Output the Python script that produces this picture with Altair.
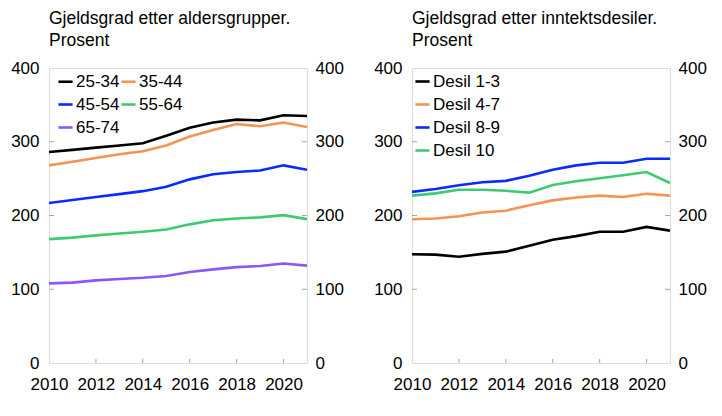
import altair as alt
import pandas as pd

years = list(range(2010, 2022))

age_groups = ["25-34", "35-44", "45-54", "55-64", "65-74"]
age_25_34 = [286, 289, 292, 295, 298, 308, 319, 326, 330, 329, 336, 335]
age_35_44 = [268, 273, 278, 283, 287, 295, 307, 316, 324, 321, 326, 320]
age_45_54 = [217, 221, 225, 229, 233, 239, 249, 256, 259, 261, 268, 262]
age_55_64 = [168, 170, 173, 175.5, 178, 181, 188, 193.5, 196, 197.5, 200.5, 195]
age_65_74 = [108, 109, 112, 114, 115.5, 118, 123.5, 127, 130, 131.5, 135, 132]

inc_groups = ["Desil 1-3", "Desil 4-7", "Desil 8-9", "Desil 10"]
inc_1_3 = [147.5, 147, 144, 148, 151, 159, 167, 172, 178, 178, 184.5, 179.5]
inc_4_7 = [195, 196, 199, 204, 206.5, 214, 220.5, 224.5, 227, 225, 229.5, 227]
inc_8_9 = [232, 236, 241, 245, 247, 254, 262, 268, 271.5, 271.5, 277, 277]
inc_10 = [227, 230, 235, 235, 233.5, 231, 241.5, 246.5, 250.5, 254.5, 259, 244]

age_colors = ["#000000", "#F49452", "#0A2BFF", "#3DCB72", "#8D55FA"]
inc_colors = ["#000000", "#F49452", "#0A2BFF", "#3DCB72"]

titles = [["Gjeldsgrad etter aldersgrupper.", "Prosent"],
          ["Gjeldsgrad etter inntektsdesiler.", "Prosent"]]

y_ticks = [0, 100, 200, 300, 400]
x_ticks = [2010, 2012, 2014, 2016, 2018, 2020]
inner_x_ticks = [2012, 2014, 2016, 2018, 2020]
inner_y_ticks = [100, 200, 300]

FONT = "Liberation Sans"
GRAY = "#808080"


def long_df(groups, series):
    rows = []
    for g, vals in zip(groups, series):
        for yr, v in zip(years, vals):
            rows.append({"year": yr, "value": v, "series": g})
    return pd.DataFrame(rows)


def panel(groups, series, colors, title, cols, lx, ly):
    df = long_df(groups, series)
    xs = alt.Scale(domain=[2010, 2021], nice=False, zero=False)
    ys = alt.Scale(domain=[0, 400], nice=False)
    lines = alt.Chart(df).mark_line(strokeWidth=2.6, clip=True).encode(
        x=alt.X("year:Q", scale=xs, title=None,
                axis=alt.Axis(values=x_ticks, format="d", tickSize=0, domain=False,
                              grid=False, labelPadding=13, labelFontSize=17,
                              labelFont=FONT, labelColor="black", labelFlush=False)),
        y=alt.Y("value:Q", scale=ys, title=None,
                axis=alt.Axis(values=y_ticks, orient="left", tickSize=0, domain=False,
                              grid=False, labelPadding=10, labelFontSize=17,
                              labelFont=FONT, labelColor="black")),
        color=alt.Color("series:N", sort=groups,
                        scale=alt.Scale(domain=groups, range=colors),
                        legend=alt.Legend(title=None, orient="none", legendX=lx, legendY=ly,
                                          columns=cols, symbolType="stroke",
                                          symbolSize=200, symbolStrokeWidth=2.6,
                                          labelFontSize=17, labelFont=FONT,
                                          labelColor="black", labelOffset=2,
                                          rowPadding=5, columnPadding=-6, padding=0,
                                          direction="horizontal")),
    )
    right = alt.Chart(df).mark_line(opacity=0).encode(
        x=alt.X("year:Q", scale=xs, title=None,
                axis=alt.Axis(values=x_ticks, format="d", tickSize=0, domain=False,
                              grid=False, labelPadding=13, labelFontSize=17,
                              labelFont=FONT, labelColor="black", labelFlush=False)),
        y=alt.Y("value:Q", scale=ys, title=None,
                axis=alt.Axis(values=y_ticks, orient="right", tickSize=0, domain=False,
                              grid=False, labelPadding=8, labelFontSize=17,
                              labelFont=FONT, labelColor="black")),
        detail="series:N",
    )
    xt = alt.Chart(pd.DataFrame({"year": inner_x_ticks, "value": [0] * len(inner_x_ticks)})).mark_tick(
        orient="vertical", size=8, thickness=1, color=GRAY, clip=True).encode(
        x=alt.X("year:Q", scale=xs),
        y=alt.Y("value:Q", scale=ys, axis=None))
    ylt = alt.Chart(pd.DataFrame({"year": [2010] * 3, "value": inner_y_ticks})).mark_tick(
        orient="horizontal", size=10, thickness=1, color=GRAY, clip=True).encode(
        x=alt.X("year:Q", scale=xs),
        y=alt.Y("value:Q", scale=ys, axis=None))
    yrt = alt.Chart(pd.DataFrame({"year": [2021] * 3, "value": inner_y_ticks})).mark_tick(
        orient="horizontal", size=10, thickness=1, color=GRAY, clip=True).encode(
        x=alt.X("year:Q", scale=xs),
        y=alt.Y("value:Q", scale=ys, axis=None))
    return alt.layer(lines, right, xt, ylt, yrt).resolve_axis(y="independent").properties(
        width=258, height=295,
        title=alt.TitleParams(text=title, anchor="start", fontSize=17.5, font=FONT,
                              fontWeight="normal", color="black", lineHeight=22,
                              offset=10, frame="group"),
    )


left = panel(age_groups, [age_25_34, age_35_44, age_45_54, age_55_64, age_65_74],
             age_colors, titles[0], 2, 8, 5)
rightp = panel(inc_groups, [inc_1_3, inc_4_7, inc_8_9, inc_10],
               inc_colors, titles[1], 1, 2, 5)

chart = alt.hconcat(left, rightp, spacing=29).resolve_scale(color="independent").properties(
    padding={"left": 2, "top": 1, "right": 2, "bottom": 2}
).configure_view(stroke=GRAY, strokeWidth=1).configure(background="white")

chart.save("out.html", embed_options={"renderer": "svg", "actions": False})
